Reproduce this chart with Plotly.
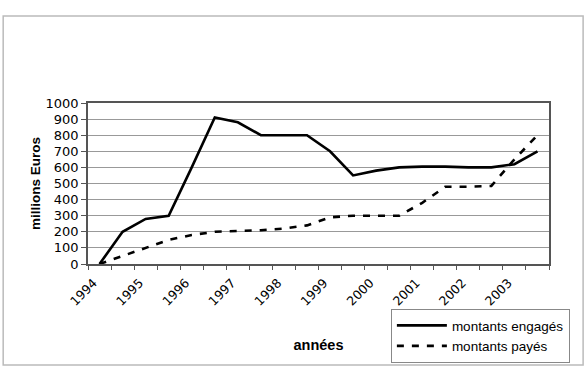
import plotly.graph_objects as go

years = ["1994", "1995", "1996", "1997", "1998", "1999", "2000", "2001", "2002", "2003"]
# half-year observations (20 points)
engages = [0, 200, 280, 300, 600, 910, 880, 800, 800, 800,
           700, 550, 580, 600, 605, 605, 600, 600, 620, 700]
payes = [0, 50, 100, 150, 180, 200, 205, 210, 220, 240,
         290, 300, 300, 300, 380, 480, 480, 485, 650, 800]
periods = list(range(len(engages)))
year_pos = periods[::2]

font = "Liberation Sans, Arial, sans-serif"
wide = "DejaVu Sans, sans-serif"

fig = go.Figure()
fig.add_trace(go.Scatter(x=periods, y=engages, mode="lines", name="montants engagés",
                         line=dict(color="black", width=2.6)))
fig.add_trace(go.Scatter(x=periods, y=payes, mode="lines", name="montants payés",
                         line=dict(color="black", width=2.6, dash="7px,8px")))

fig.update_layout(
    width=586, height=375,
    margin=dict(l=88, r=37, t=103, b=111),
    paper_bgcolor="white", plot_bgcolor="white",
    font=dict(family=font, color="black"),
    showlegend=True,
    legend=dict(x=0.657, y=-0.28, xanchor="left", yanchor="top",
                bordercolor="#888", borderwidth=1, bgcolor="white",
                font=dict(size=13.5, family=font), itemwidth=50,
                tracegroupgap=0),
    shapes=[dict(type="rect", xref="paper", yref="paper",
                 x0=-0.184, x1=1.074, y0=-0.627, y1=1.540,
                 line=dict(color="#bbb", width=1.5), layer="below")],
)
fig.update_xaxes(
    range=[-0.5, len(periods) - 0.5],
    tickmode="array", tickvals=year_pos, ticktext=years,
    tickangle=-45, ticks="", tickfont=dict(size=12.5, family=wide),
    ticklabelshift=-6, ticklabelstandoff=5,
    minor=dict(ticks="outside", tick0=-0.5, dtick=1, ticklen=4, tickcolor="#555", showgrid=False),
    showline=True, linecolor="#555", linewidth=1.5, mirror=True,
    showgrid=False, zeroline=False,
    title=dict(text="<b>années</b>", font=dict(size=14.5), standoff=32),
)
fig.update_yaxes(
    range=[0, 1000], tickvals=list(range(0, 1001, 100)),
    ticks="outside", ticklen=5, tickcolor="#555", tickfont=dict(size=13, family=wide),
    showline=True, linecolor="#555", linewidth=1.5, mirror=True,
    showgrid=True, gridcolor="#999", gridwidth=1, zeroline=False,
    title=dict(text="<b>millions Euros</b>", font=dict(size=13.5), standoff=2),
)

fig.write_html("out.html")
